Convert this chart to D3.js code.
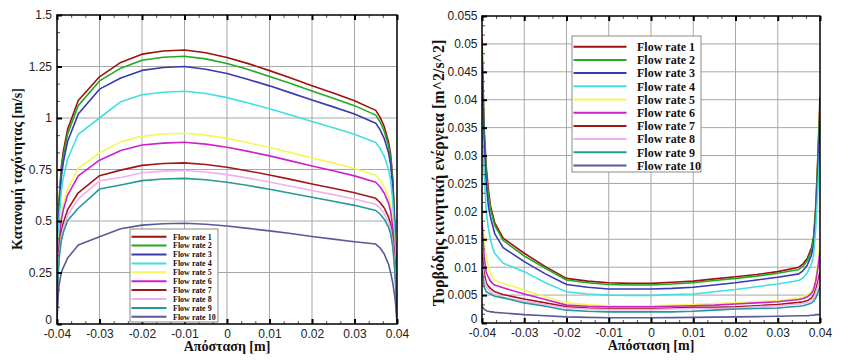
<!DOCTYPE html>
<html><head><meta charset="utf-8">
<script src="https://cdn.jsdelivr.net/npm/d3@7"></script>
<style>body{margin:0;background:#fff}</style>
</head><body><svg id="c" width="853" height="360"></svg>
<script>
const seriesNames = ["Flow rate 1","Flow rate 2","Flow rate 3","Flow rate 4","Flow rate 5","Flow rate 6","Flow rate 7","Flow rate 8","Flow rate 9","Flow rate 10"];
const seriesColors = ["#a01010","#22aa22","#3a3ab0","#40e0e0","#f6f65a","#cc22cc","#a01818","#f0b0f0","#229a9a","#5a5a96"];

// ---- Left panel: velocity distribution [m/s]
const velX = [-0.04,-0.0398,-0.0395,-0.039,-0.0385,-0.0375,-0.035,-0.03,-0.025,-0.02,-0.015,-0.01,-0.005,0,0.005,0.01,0.015,0.02,0.025,0.03,0.035,0.036,0.037,0.038,0.0385,0.039,0.0395,0.0398,0.04];
const vel1 = [0,0.40,0.60,0.76,0.84,0.945,1.085,1.20,1.27,1.31,1.325,1.33,1.317,1.294,1.264,1.23,1.194,1.157,1.121,1.084,1.037,1.004,0.958,0.884,0.825,0.705,0.479,0.266,0];
const vel2 = [0,0.39,0.585,0.741,0.819,0.923,1.06,1.18,1.242,1.28,1.295,1.30,1.287,1.265,1.235,1.202,1.167,1.131,1.096,1.06,1.014,0.982,0.936,0.865,0.806,0.689,0.468,0.26,0];
const vel3 = [0,0.375,0.562,0.712,0.787,0.887,1.019,1.14,1.194,1.231,1.245,1.25,1.237,1.216,1.187,1.156,1.122,1.087,1.054,1.019,0.975,0.944,0.90,0.831,0.775,0.662,0.45,0.25,0];
const vel4 = [0,0.339,0.508,0.644,0.712,0.802,0.921,1.0,1.079,1.113,1.125,1.13,1.119,1.099,1.073,1.045,1.015,0.983,0.953,0.921,0.881,0.853,0.814,0.751,0.701,0.599,0.407,0.226,0];
const vel5 = [0,0.278,0.417,0.528,0.583,0.657,0.755,0.83,0.884,0.912,0.922,0.926,0.917,0.901,0.88,0.857,0.832,0.806,0.781,0.755,0.722,0.699,0.667,0.616,0.574,0.491,0.333,0.185,0];
const vel6 = [0,0.265,0.397,0.503,0.556,0.626,0.719,0.795,0.842,0.869,0.878,0.882,0.873,0.858,0.838,0.816,0.792,0.767,0.744,0.719,0.688,0.666,0.635,0.587,0.547,0.467,0.318,0.176,0];
const vel7 = [0,0.235,0.352,0.446,0.493,0.555,0.637,0.72,0.747,0.77,0.779,0.782,0.774,0.761,0.743,0.723,0.702,0.68,0.659,0.637,0.61,0.59,0.563,0.52,0.485,0.414,0.282,0.156,0];
const vel8 = [0,0.224,0.335,0.425,0.469,0.529,0.607,0.695,0.711,0.734,0.742,0.745,0.738,0.725,0.708,0.689,0.669,0.648,0.628,0.607,0.581,0.562,0.536,0.495,0.462,0.395,0.268,0.149,0];
const vel9 = [0,0.212,0.318,0.403,0.445,0.502,0.562,0.655,0.675,0.696,0.704,0.707,0.70,0.688,0.672,0.654,0.635,0.615,0.596,0.576,0.551,0.534,0.509,0.47,0.438,0.375,0.255,0.141,0];
const vel10 = [0,0.12,0.19,0.25,0.275,0.32,0.383,0.424,0.462,0.48,0.487,0.489,0.484,0.476,0.464,0.452,0.439,0.425,0.412,0.399,0.388,0.37,0.34,0.29,0.25,0.20,0.13,0.07,0];

// ---- Right panel: turbulent kinetic energy [m^2/s^2]
const tkeX = [-0.04,-0.0395,-0.039,-0.0385,-0.038,-0.0375,-0.037,-0.035,-0.03,-0.025,-0.02,-0.015,-0.01,-0.005,0,0.005,0.01,0.015,0.02,0.025,0.03,0.035,0.036,0.037,0.038,0.0385,0.039,0.0395,0.04];
const tke1 = [0.051,0.035,0.028,0.024,0.021,0.0195,0.018,0.0152,0.0125,0.0101,0.0080,0.0075,0.0072,0.0071,0.0071,0.0073,0.0075,0.0079,0.0083,0.0087,0.0092,0.0100,0.0106,0.0116,0.0135,0.0155,0.021,0.030,0.0405];
const tke2 = [0.049,0.034,0.027,0.023,0.0205,0.019,0.0175,0.0148,0.012,0.0098,0.0077,0.0072,0.0069,0.0068,0.0068,0.0070,0.0072,0.0076,0.0080,0.0084,0.0089,0.0096,0.0102,0.0112,0.013,0.015,0.020,0.029,0.039];
const tke3 = [0.046,0.032,0.025,0.021,0.019,0.0175,0.016,0.0135,0.011,0.0088,0.0069,0.0064,0.0061,0.0061,0.0061,0.0062,0.0064,0.0068,0.0072,0.0077,0.0082,0.0088,0.0094,0.0104,0.0122,0.014,0.019,0.027,0.036];
const tke4 = [0.036,0.027,0.020,0.017,0.015,0.0135,0.0125,0.0107,0.0092,0.0072,0.0056,0.0052,0.0050,0.00495,0.00495,0.0051,0.0052,0.0056,0.0060,0.0065,0.0070,0.0076,0.0081,0.0090,0.0106,0.0122,0.017,0.024,0.032];
const tke5 = [0.020,0.015,0.012,0.0102,0.0089,0.0082,0.0077,0.0071,0.0059,0.0047,0.0036,0.0033,0.0031,0.0031,0.0031,0.0032,0.0033,0.0035,0.0036,0.0038,0.0040,0.0045,0.0047,0.0050,0.0057,0.0065,0.0080,0.011,0.0148];
const tke6 = [0.018,0.012,0.009,0.0082,0.0075,0.0071,0.0068,0.0063,0.0052,0.0042,0.0032,0.0030,0.0029,0.0029,0.0029,0.0030,0.0031,0.0032,0.0034,0.0036,0.0038,0.0042,0.0044,0.0047,0.0053,0.0060,0.0075,0.0098,0.0128];
const tke7 = [0.0125,0.009,0.0072,0.0066,0.0062,0.0059,0.0056,0.0051,0.0043,0.0036,0.0029,0.0027,0.0026,0.0026,0.0026,0.0027,0.0028,0.0028,0.0029,0.0031,0.0033,0.0037,0.0038,0.0040,0.0045,0.0050,0.0060,0.0074,0.0092];
const tke8 = [0.011,0.008,0.0065,0.0060,0.0056,0.0053,0.0050,0.0046,0.0039,0.0033,0.0027,0.0025,0.0024,0.0024,0.0024,0.0025,0.0026,0.0026,0.0027,0.0029,0.0031,0.0034,0.0035,0.0037,0.0041,0.0045,0.0054,0.0066,0.0082];
const tke9 = [0.0095,0.0065,0.0056,0.0054,0.0052,0.0050,0.0048,0.0045,0.0036,0.0030,0.0023,0.0021,0.0020,0.0020,0.0020,0.0020,0.0021,0.0023,0.0025,0.0026,0.0027,0.0030,0.0031,0.0033,0.0036,0.0039,0.0045,0.0054,0.0066];
const tke10 = [0.0030,0.0025,0.0022,0.0021,0.0020,0.0020,0.0019,0.0018,0.0015,0.0013,0.0011,0.0010,0.00095,0.00095,0.00095,0.00097,0.0010,0.00105,0.0011,0.00115,0.0012,0.0013,0.0013,0.0013,0.0014,0.0014,0.0015,0.0015,0.0015];

// ---- ticks
const xTickValues = [-0.04,-0.03,-0.02,-0.01,0,0.01,0.02,0.03,0.04];
const xTickLabels = ["-0.04","-0.03","-0.02","-0.01","0","0.01","0.02","0.03","0.04"];
const velYTickValues = [0,0.25,0.5,0.75,1,1.25,1.5];
const velYTickLabels = ["0","0.25","0.5","0.75","1","1.25","1.5"];
const tkeYTickValues = [0,0.005,0.01,0.015,0.02,0.025,0.03,0.035,0.04,0.045,0.05,0.055];
const tkeYTickLabels = ["0","0.005","0.01","0.015","0.02","0.025","0.03","0.035","0.04","0.045","0.05","0.055"];

const svg = d3.select("#c");
const SERIF = "'Liberation Serif','Times New Roman',serif";
const SANS = "'Liberation Sans',Arial,sans-serif";

function minorVals(majors, n) {
  const out = [];
  for (let i = 0; i < majors.length - 1; i++) {
    const a = majors[i], b = majors[i+1];
    for (let k = 1; k <= n; k++) out.push(a + (b - a) * k / (n + 1));
  }
  return out;
}

function panel(cfg) {
  const x = d3.scaleLinear().domain([-0.04, 0.04]).range([cfg.x0, cfg.x1]);
  const y = d3.scaleLinear().domain(cfg.yDomain).range([cfg.y1, cfg.y0]);
  const g = svg.append("g");
  const id = "clip" + cfg.key;
  svg.append("defs").append("clipPath").attr("id", id)
    .append("rect").attr("x", cfg.x0).attr("y", cfg.y0).attr("width", cfg.x1 - cfg.x0).attr("height", cfg.y1 - cfg.y0);

  // grid
  g.append("g").selectAll("line").data(xTickValues.slice(1, -1)).join("line")
    .attr("x1", d => x(d)).attr("x2", d => x(d)).attr("y1", cfg.y0).attr("y2", cfg.y1)
    .attr("stroke", "#a8a8a8").attr("stroke-width", 1);
  g.append("g").selectAll("line").data(cfg.yTicks.slice(1, -1)).join("line")
    .attr("y1", d => y(d)).attr("y2", d => y(d)).attr("x1", cfg.x0).attr("x2", cfg.x1)
    .attr("stroke", "#a8a8a8").attr("stroke-width", 1);

  // curves
  const line = d3.line().x(d => x(d[0])).y(d => y(d[1]));
  const lg = g.append("g").attr("clip-path", `url(#${id})`);
  cfg.series.forEach((vals, i) => {
    lg.append("path").datum(cfg.xs.map((xv, j) => [xv, vals[j]]))
      .attr("d", line).attr("fill", "none")
      .attr("stroke", seriesColors[i]).attr("stroke-width", 1.6).attr("stroke-linejoin", "round");
  });

  // minor ticks
  const xMin = minorVals(xTickValues, 2), yMin = minorVals(cfg.yTicks, 2);
  const axB = g.append("g").attr("transform", `translate(0,${cfg.y1})`)
    .call(d3.axisBottom(x).tickValues(xMin).tickSize(-3).tickFormat(""));
  const axT = g.append("g").attr("transform", `translate(0,${cfg.y0})`)
    .call(d3.axisTop(x).tickValues(xMin).tickSize(-3).tickFormat(""));
  const axL = g.append("g").attr("transform", `translate(${cfg.x0},0)`)
    .call(d3.axisLeft(y).tickValues(yMin).tickSize(-3).tickFormat(""));
  [axB, axT, axL].forEach(a => { a.select(".domain").remove(); a.selectAll("line").attr("stroke", "#555").attr("stroke-width", 1); });

  // major ticks + labels
  const bx = g.append("g").attr("transform", `translate(0,${cfg.y1})`)
    .call(d3.axisBottom(x).tickValues(xTickValues).tickSize(-5).tickPadding(5).tickFormat((d, i) => xTickLabels[i]));
  const tx = g.append("g").attr("transform", `translate(0,${cfg.y0})`)
    .call(d3.axisTop(x).tickValues(xTickValues).tickSize(-5).tickFormat(""));
  const ly = g.append("g").attr("transform", `translate(${cfg.x0},0)`)
    .call(d3.axisLeft(y).tickValues(cfg.yTicks).tickSize(-5).tickPadding(cfg.yPad).tickFormat((d, i) => cfg.yLabels[i]));
  [bx, tx, ly].forEach(a => {
    a.select(".domain").remove();
    a.selectAll("line").attr("stroke", "#000").attr("stroke-width", 2);
    a.selectAll("text").attr("font-family", SANS).attr("font-size", 12).attr("fill", "#222");
  });
  // lift the "0" y label slightly so it does not collide with the first x label
  ly.selectAll(".tick").filter(d => d === 0).select("text").attr("y", -4);

  // frame
  g.append("rect").attr("x", cfg.x0).attr("y", cfg.y0).attr("width", cfg.x1 - cfg.x0).attr("height", cfg.y1 - cfg.y0)
    .attr("fill", "none").attr("stroke", "#000").attr("stroke-width", 1.5);

  // titles
  g.append("text").attr("x", (cfg.x0 + cfg.x1) / 2).attr("y", cfg.xTitleY).attr("text-anchor", "middle")
    .attr("font-family", SERIF).attr("font-weight", "bold").attr("font-size", 14).attr("fill", "#111").text("Απόσταση [m]");
  g.append("text").attr("transform", `translate(${cfg.yTitleX},${cfg.yTitleCY}) rotate(-90)`).attr("text-anchor", "middle")
    .attr("font-family", SERIF).attr("font-weight", "bold").attr("font-size", cfg.yTitleSize).attr("fill", "#111").text(cfg.yTitle);

  // legend
  const L = cfg.legend;
  const lgd = g.append("g");
  lgd.append("rect").attr("x", L.x).attr("y", L.y).attr("width", L.w).attr("height", L.h)
    .attr("fill", "#fff").attr("stroke", "#8a8a8a").attr("stroke-width", 1);
  seriesNames.forEach((name, i) => {
    const yy = L.row0 + i * L.step;
    lgd.append("line").attr("x1", L.lx1).attr("x2", L.lx2).attr("y1", yy).attr("y2", yy)
      .attr("stroke", seriesColors[i]).attr("stroke-width", 2);
    lgd.append("text").attr("x", L.tx).attr("y", yy).attr("dy", "0.35em")
      .attr("font-family", SERIF).attr("font-weight", "bold").attr("font-size", L.fs).attr("fill", "#111").text(name);
  });
}

panel({
  key: "v", x0: 57, x1: 397, y0: 15, y1: 324, yDomain: [0, 1.5],
  yTicks: velYTickValues, yLabels: velYTickLabels, yPad: 5,
  xs: velX, series: [vel1, vel2, vel3, vel4, vel5, vel6, vel7, vel8, vel9, vel10],
  xTitleY: 351, yTitleX: 22, yTitleCY: 169, yTitleSize: 14, yTitle: "Κατανομή ταχύτητας [m/s]",
  legend: { x: 130, y: 229, w: 88, h: 93, row0: 236.7, step: 8.9, lx1: 131.5, lx2: 166.5, tx: 173, fs: 8 }
});

panel({
  key: "k", x0: 482, x1: 820, y0: 16, y1: 323, yDomain: [0, 0.055],
  yTicks: tkeYTickValues, yLabels: tkeYTickLabels, yPad: 4.5,
  xs: tkeX, series: [tke1, tke2, tke3, tke4, tke5, tke6, tke7, tke8, tke9, tke10],
  xTitleY: 350, yTitleX: 444, yTitleCY: 173, yTitleSize: 16, yTitle: "Τυρβόδης κινητική ενέργεια [m^2/s^2]",
  legend: { x: 572, y: 36, w: 129, h: 136, row0: 46.7, step: 13.2, lx1: 573.5, lx2: 626.5, tx: 637, fs: 12 }
});
</script></body></html>
